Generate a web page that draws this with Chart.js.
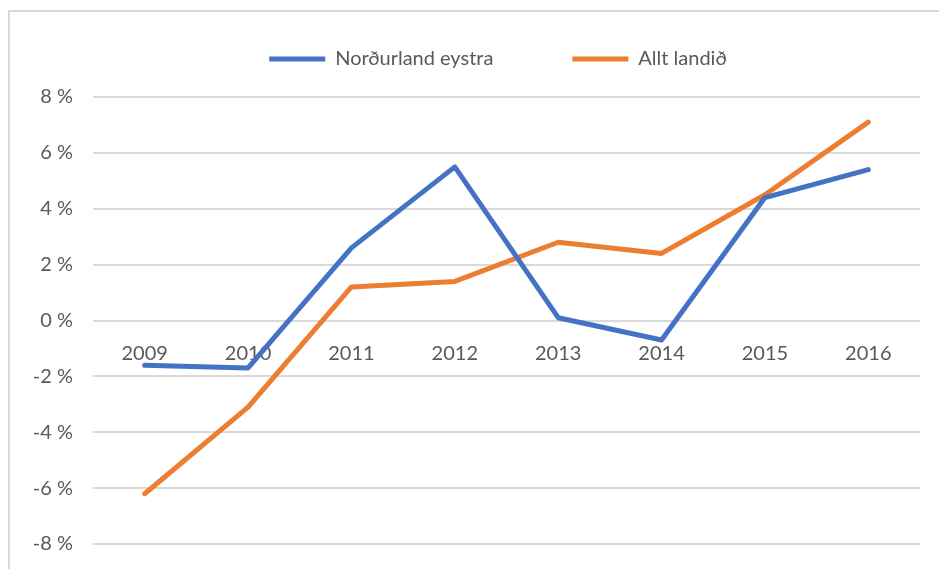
<!DOCTYPE html>
<html>
<head>
<meta charset="utf-8">
<script src="https://cdn.jsdelivr.net/npm/chart.js@4.4.0/dist/chart.umd.min.js"></script>
<style>
  html, body { margin: 0; padding: 0; background: #fff; }
  #wrap { position: relative; width: 939px; height: 569px; }
  #frame { position: absolute; left: 8px; top: 10px; right: -2px; bottom: -2px; border: 2px solid #d9d9d9; }
</style>
</head>
<body>
<div id="wrap">
  <div id="frame"></div>
  <canvas id="myChart" width="939" height="569"></canvas>
</div>
<script>
var years = ["2009", "2010", "2011", "2012", "2013", "2014", "2015", "2016"];
var nordurland = [-1.6, -1.7, 2.6, 5.5, 0.1, -0.7, 4.4, 5.4];
var alltLandid = [-6.2, -3.1, 1.2, 1.4, 2.8, 2.4, 4.5, 7.1];
var yTicks = [-8, -6, -4, -2, 0, 2, 4, 6, 8];

var textColor = '#595959';

// legend height is forced so the plot starts where the 8 % line sits,
// and the legend is nudged right to sit over the plot like in Excel
var legendTweak = {
    id: 'legendTweak',
    beforeInit: function (chart) {
        var fit = chart.legend.fit;
        chart.legend.fit = function () {
            fit.call(this);
            this.height = 127;
        };
    },
    afterLayout: function (chart) {
        chart.legend.left += 34;
        chart.legend.right += 34;
    }
};

var ctx = document.getElementById("myChart").getContext('2d');

var myChart = new Chart(ctx, {
    type: 'line',
    data: {
        labels: years,
        datasets: [{
            label: 'Norðurland eystra',
            data: nordurland,
            borderColor: '#4472C4',
            backgroundColor: '#4472C4',
            borderWidth: 5,
            borderCapStyle: 'round',
            borderJoinStyle: 'round',
            pointRadius: 0,
            tension: 0
        }, {
            label: 'Allt landið',
            data: alltLandid,
            borderColor: '#ED7D31',
            backgroundColor: '#ED7D31',
            borderWidth: 5,
            borderCapStyle: 'round',
            borderJoinStyle: 'round',
            pointRadius: 0,
            tension: 0
        }]
    },
    options: {
        responsive: false,
        animation: false,
        layout: {
            padding: { top: -30, left: 8, right: 19, bottom: 25 }
        },
        plugins: {
            legend: {
                position: 'top',
                labels: {
                    usePointStyle: true,
                    pointStyle: 'line',
                    pointStyleWidth: 56,
                    padding: 79,
                    color: textColor,
                    font: { family: 'Lato', size: 20 }
                }
            },
            tooltip: { enabled: false }
        },
        scales: {
            x: {
                position: { y: 0 },
                offset: true,
                afterFit: function (scale) { scale.height = 0; },
                grid: { display: false, drawTicks: false },
                border: { display: false },
                ticks: {
                    padding: 21,
                    color: textColor,
                    font: { family: 'Lato', size: 20 }
                }
            },
            y: {
                min: -8,
                max: 8,
                afterBuildTicks: function (scale) {
                    scale.ticks = yTicks.map(function (v) { return { value: v }; });
                },
                afterFit: function (scale) {
                    scale.width = 85;
                    scale.paddingTop = 12;
                    scale.paddingBottom = 12;
                },
                grid: { color: '#d9d9d9', lineWidth: 2, drawTicks: false },
                border: { display: false },
                ticks: {
                    padding: 20,
                    color: textColor,
                    font: { family: 'Lato', size: 20 },
                    callback: function (v) { return v + ' %'; }
                }
            }
        }
    },
    plugins: [legendTweak]
});
</script>
</body>
</html>
